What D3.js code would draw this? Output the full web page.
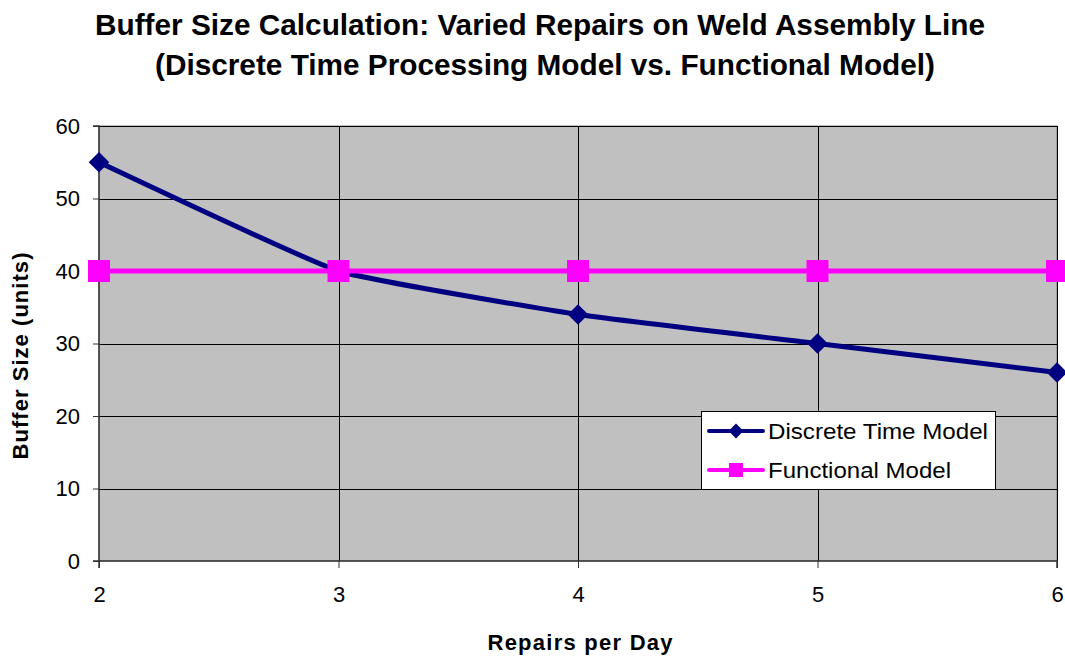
<!DOCTYPE html>
<html>
<head>
<meta charset="utf-8">
<script src="https://cdn.jsdelivr.net/npm/d3@7"></script>
<style>
  body { margin: 0; background: #fff; }
  text { font-family: "Liberation Sans", Arial, sans-serif; }
  .tick text { font-size: 22px; fill: #000; }
</style>
</head>
<body>
<div id="chart"></div>
<script>
// chart data
var repairsPerDay = [2, 3, 4, 5, 6];
var discreteTime = [55, 40, 34, 30, 26];
var functionalModel = [40, 40, 40, 40, 40];
var yTicks = [0, 10, 20, 30, 40, 50, 60];
var seriesNames = ["Discrete Time Model", "Functional Model"];

var width = 1065, height = 656;
var margin = {left: 99, right: 8, top: 126, bottom: 95};

var svg = d3.select("#chart").append("svg")
    .attr("width", width)
    .attr("height", height);

var x = d3.scaleLinear().domain([2, 6]).range([margin.left, width - margin.right]);
var y = d3.scaleLinear().domain([0, 60]).range([height - margin.bottom, margin.top]);

// plot background
svg.append("rect")
    .attr("x", x(2)).attr("y", y(60))
    .attr("width", x(6) - x(2)).attr("height", y(0) - y(60))
    .attr("fill", "#c0c0c0")
    .attr("stroke", "#808080")
    .attr("stroke-width", 1);

// gridlines
svg.append("g").selectAll("line")
    .data(yTicks.slice(1))
    .enter().append("line")
    .attr("x1", x(2)).attr("x2", x(6))
    .attr("y1", function(d) { return Math.round(y(d)) + 0.5; })
    .attr("y2", function(d) { return Math.round(y(d)) + 0.5; })
    .attr("stroke", "#000").attr("stroke-width", 1);

svg.append("g").selectAll("line")
    .data(repairsPerDay.slice(1))
    .enter().append("line")
    .attr("y1", y(0)).attr("y2", y(60))
    .attr("x1", function(d) { return Math.round(x(d)) + 0.5; })
    .attr("x2", function(d) { return Math.round(x(d)) + 0.5; })
    .attr("stroke", "#000").attr("stroke-width", 1);

// axes
var yAxis = d3.axisLeft(y).tickValues(yTicks).tickSize(6).tickPadding(13).tickFormat(d3.format("d"));
var xAxis = d3.axisBottom(x).tickValues(repairsPerDay).tickSize(7).tickPadding(18).tickFormat(d3.format("d"));

var gy = svg.append("g")
    .attr("transform", "translate(" + x(2) + ",0)")
    .call(yAxis);
var gx = svg.append("g")
    .attr("transform", "translate(0," + y(0) + ")")
    .call(xAxis);

[gy, gx].forEach(function(g) {
    g.attr("font-size", 22).attr("font-family", "Liberation Sans, Arial, sans-serif");
    g.select(".domain").attr("stroke", "#333").attr("stroke-width", 1.5);
    g.selectAll(".tick line").attr("stroke", "#333");
    g.selectAll(".tick text").style("font-size", "22px").attr("fill", "#000");
});
gy.select(".domain").attr("d", "M-6," + y(0) + "H0V" + y(60) + "H-6");
gx.select(".domain").attr("d", "M" + x(2) + ",7V0H" + x(6) + "V7");

// lines
var line = d3.line()
    .x(function(d) { return x(d[0]); })
    .y(function(d) { return y(d[1]); });

var discretePts = repairsPerDay.map(function(d, i) { return [d, discreteTime[i]]; });
var functionalPts = repairsPerDay.map(function(d, i) { return [d, functionalModel[i]]; });

svg.append("path")
    .datum(discretePts)
    .attr("d", line.curve(d3.curveCardinal.tension(0.65)))
    .attr("fill", "none")
    .attr("stroke", "#000080")
    .attr("stroke-width", 5);

svg.append("g").selectAll("path")
    .data(discretePts)
    .enter().append("path")
    .attr("d", d3.symbol().type(d3.symbolDiamond2).size(270))
    .attr("transform", function(d) { return "translate(" + x(d[0]) + "," + y(d[1]) + ")"; })
    .attr("fill", "#000080");

svg.append("path")
    .datum(functionalPts)
    .attr("d", line.curve(d3.curveLinear))
    .attr("fill", "none")
    .attr("stroke", "#ff00ff")
    .attr("stroke-width", 5);

svg.append("g").selectAll("rect")
    .data(functionalPts)
    .enter().append("rect")
    .attr("x", function(d) { return x(d[0]) - 11; })
    .attr("y", function(d) { return y(d[1]) - 11; })
    .attr("width", 22).attr("height", 22)
    .attr("fill", "#ff00ff");

// title (condensed bold, like the original)
var title = svg.append("g").attr("font-weight", "bold").attr("font-size", 30).attr("text-anchor", "middle");
title.append("text").attr("x", 540).attr("y", 35)
    .attr("textLength", 890).attr("lengthAdjust", "spacingAndGlyphs")
    .text("Buffer Size Calculation: Varied Repairs on Weld Assembly Line");
title.append("text").attr("x", 545).attr("y", 75)
    .attr("textLength", 780).attr("lengthAdjust", "spacingAndGlyphs")
    .text("(Discrete Time Processing Model vs. Functional Model)");

// axis titles
svg.append("text")
    .attr("x", 580).attr("y", 650)
    .attr("text-anchor", "middle")
    .attr("font-weight", "bold").attr("font-size", 22)
    .attr("textLength", 185).attr("lengthAdjust", "spacing")
    .text("Repairs per Day");

svg.append("text")
    .attr("transform", "translate(28,356) rotate(-90)")
    .attr("text-anchor", "middle")
    .attr("font-weight", "bold").attr("font-size", 22)
    .attr("textLength", 207).attr("lengthAdjust", "spacing")
    .text("Buffer Size (units)");

// legend
var legend = svg.append("g").attr("transform", "translate(701,411)");
legend.append("rect")
    .attr("x", 0.5).attr("y", 0.5)
    .attr("width", 294).attr("height", 78)
    .attr("fill", "#fff").attr("stroke", "#000").attr("stroke-width", 1);

var colors = ["#000080", "#ff00ff"];
seriesNames.forEach(function(name, i) {
    var cy = 20 + i * 39;
    legend.append("line")
        .attr("x1", 8).attr("x2", 62)
        .attr("y1", cy).attr("y2", cy)
        .attr("stroke", colors[i]).attr("stroke-width", 4)
        .attr("stroke-linecap", "round");
    if (i == 0) {
        legend.append("path")
            .attr("d", d3.symbol().type(d3.symbolDiamond2).size(140))
            .attr("transform", "translate(35," + cy + ")")
            .attr("fill", colors[i]);
    } else {
        legend.append("rect")
            .attr("x", 28).attr("y", cy - 7)
            .attr("width", 14).attr("height", 14)
            .attr("fill", colors[i]);
    }
    legend.append("text")
        .attr("x", 67).attr("y", cy + 8)
        .attr("font-size", 22)
        .attr("textLength", i == 0 ? 220 : 183).attr("lengthAdjust", "spacingAndGlyphs")
        .text(name);
});
</script>
</body>
</html>
